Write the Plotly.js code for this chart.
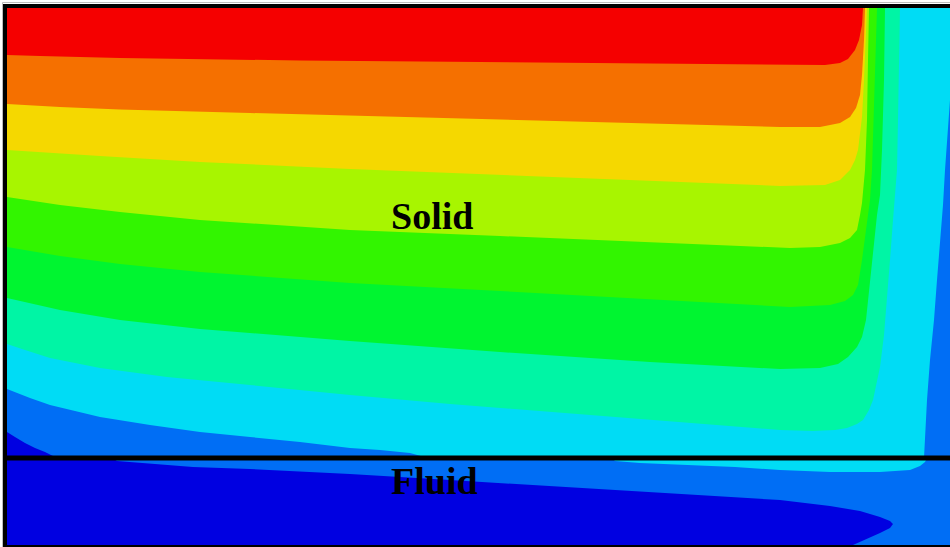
<!DOCTYPE html>
<html><head><meta charset="utf-8">
<script src="https://cdn.plot.ly/plotly-3.0.1.min.js"></script>
<style>html,body{margin:0;padding:0;background:#fff;}#chart{width:950px;height:547px;}</style>
</head><body><div id="chart"></div>
<script>
// Contour level colours (level 0 = coldest ... level 9 = hottest)
const levelColors = ['#0000E1','#006EF5','#00DCF5','#00F5A5','#00F530','#32F500','#A8F500','#F5D800','#F57000','#F50000'];
const regionLabels = ['Solid','Fluid'];

// Iso-line positions (x, y in image units)
// Solid: boundary between level k-1 and level k
const b1x = [7,15,25,35,45,57];
const b1y = [432,437,443,448,452,458];
const b2Lx = [7,30,50,75,100,150,200,250,300,350,380,410,428];
const b2Ly = [389,398,405,411,417,425,432,437,442,448,450,453,458];
const b2Rx = [924,925,927,930,934,937,940,943,945,947,949,950];
const b2Ry = [458,440,400,360,320,280,245,205,170,140,115,100];
const b3x = [7,25,50,100,167,250,350,450,550,600,700,780,813,835,847,857,863,869,873,877,880,884,887,890,893,895,897,898,899,900];
const b3y = [344,350,358,368,377,385,395,404,412,416,424,430,431,430,428,424,420,410,400,383,367,335,300,260,220,198,170,120,60,8];
const b4x = [7,60,120,200,350,500,650,780,820,838,848,857,862,866,868,871,874,877,880,882,884,885];
const b4y = [298,310,320,329,341,352,362,369,368,364,357,347,337,320,300,270,240,215,195,150,80,8];
const b5x = [7,60,120,200,350,500,650,790,830,845,853,858,862,866,870,872,874,876,877];
const b5y = [247,256,264,272,283,291,299,307,305,301,295,285,260,230,200,170,100,40,8];
const b6x = [7,60,120,200,350,500,650,790,820,840,850,857,860,862,865,867,868,869];
const b6y = [197,205,212,220,230,236,242,248,247,243,238,230,215,203,170,120,60,8];
const b7x = [7,100,200,350,500,650,780,825,840,850,855,858,862,864,866,867];
const b7y = [150,156,162,169,175,181,186,185,180,170,160,150,117,80,40,8];
const b8x = [7,60,120,250,400,550,700,780,820,840,850,856,860,862,864,865];
const b8y = [104,107,109.5,113,117,121,125,127,127,123,117,108,95,75,40,8];
const b9x = [7,40,90,120,300,500,700,780,825,840,848,855,859,862,863];
const b9y = [55,56,57.5,58,60.5,62.5,64,65,65,63,59,50,40,25,8];
// Fluid: level-0 pocket and level-2 strip
const f0x = [112,117,140,167,193,250,350,450,530,650,780,830,860,880,890,893,890,880,865,853];
const f0y = [458,461,463,465,467,469,474,480,485,492,500,506,511,517,521,524,528,533,540,545];
const f2x = [612,615,640,690,735,780,830,880,910,920,925,927];
const f2y = [458,461,463,465,467,470,472,472,470,466,462,458];

// Domain extents
const X0 = 7, X1 = 950, YT = 8, YI = 458, YB = 545;

function poly(xs, ys, color){
  return {type:'scatter', mode:'lines', x:xs, y:ys, fill:'toself', fillcolor:color,
          line:{width:0, color:color}, hoverinfo:'skip', showlegend:false};
}
const traces = [];
// solid
traces.push(poly([X0,X1,X1,X0],[YT,YT,YI,YI], levelColors[0]));
traces.push(poly([X0,...b1x,X1,X1],[YT,...b1y,YI,YT], levelColors[1]));
traces.push(poly([X0,...b2Lx,...b2Rx,X1],[YT,...b2Ly,...b2Ry,YT], levelColors[2]));
const upper = [[b3x,b3y],[b4x,b4y],[b5x,b5y],[b6x,b6y],[b7x,b7y],[b8x,b8y],[b9x,b9y]];
upper.forEach((b,i)=>traces.push(poly([X0,...b[0]],[YT,...b[1]], levelColors[i+3])));
// fluid
traces.push(poly([X0,X1,X1,X0],[YI,YI,YB,YB], levelColors[1]));
traces.push(poly([X0,...f0x,X0],[YI,...f0y,YB], levelColors[0]));
traces.push(poly(f2x, f2y, levelColors[2]));

const axisCommon = {showgrid:false, zeroline:false, showticklabels:false, ticks:'',
  showline:true, mirror:true, linewidth:4, linecolor:'#000'};
const layout = {
  width:950, height:547, margin:{l:7,r:0,t:8,b:2},
  paper_bgcolor:'#fff', plot_bgcolor:'#fff', showlegend:false,
  xaxis:Object.assign({range:[X0,X1]}, axisCommon),
  yaxis:Object.assign({range:[YB,YT]}, axisCommon),
  shapes:[
    {type:'line', xref:'x', yref:'y', x0:X0, x1:X1, y0:YI, y1:YI, line:{color:'#000', width:5}},
    {type:'line', xref:'paper', yref:'paper', x0:-4.5/943, x1:1, y0:1+5.5/537, y1:1+5.5/537, line:{color:'#bdbdbd', width:1}},
    {type:'line', xref:'paper', yref:'paper', x0:-4.5/943, x1:-4.5/943, y0:-2/537, y1:1+5.5/537, line:{color:'#bdbdbd', width:1}}
  ],
  annotations:[
    {x:432, y:216, xref:'x', yref:'y', text:'<b>'+regionLabels[0]+'</b>', showarrow:false,
     font:{family:'Liberation Serif, Times New Roman, serif', size:38, color:'#000'}},
    {x:434, y:481, xref:'x', yref:'y', text:'<b>'+regionLabels[1]+'</b>', showarrow:false,
     font:{family:'Liberation Serif, Times New Roman, serif', size:38, color:'#000'}}
  ]
};
Plotly.newPlot('chart', traces, layout, {staticPlot:true, displayModeBar:false});
</script></body></html>
